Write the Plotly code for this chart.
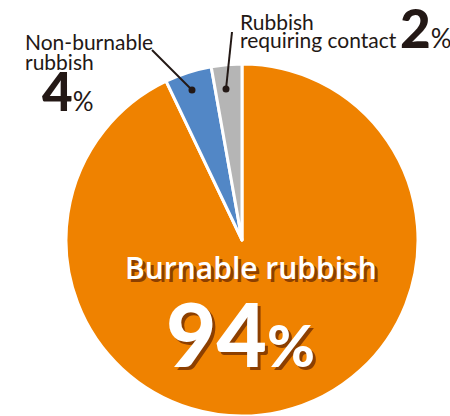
import plotly.graph_objects as go

W, H = 450, 416

categories = ["Burnable rubbish", "Non-burnable rubbish", "Rubbish requiring contact"]
slice_sizes = [92.9, 4.3, 2.8]       # angular sizes as drawn in the picture
percent_labels = [94, 4, 2]          # printed percentages
colors = ["#ef8200", "#5287c6", "#b5b5b5"]
label_lines = {
    "Non-burnable rubbish": ["Non-burnable", "rubbish"],
    "Rubbish requiring contact": ["Rubbish", "requiring contact"],
}

def px(x):
    return x / W

def py(y):
    return 1 - y / H

# pie centre (242, 240), radius 176
cx, cy, r = 242, 240, 176
fig = go.Figure(go.Pie(
    labels=categories,
    values=slice_sizes,
    sort=False,
    direction="clockwise",
    rotation=0,
    marker=dict(colors=colors, line=dict(color="white", width=3)),
    textinfo="none",
    hoverinfo="none",
    showlegend=False,
    domain=dict(x=[px(cx - r), px(cx + r)], y=[py(cy + r), py(cy - r)]),
))

shadow = "3px 3px 0px #8c3f00"
ink = "#231815"
pct_small = "<span style='font-size:{}px;font-weight:400'>%</span>"
ann = []

def text(x, y, t, font, xanchor="left", yanchor="top"):
    ann.append(dict(x=px(x), y=py(y), xref="paper", yref="paper", showarrow=False,
                    text=t, font=font, xanchor=xanchor, yanchor=yanchor, align="left"))

def tight(lines, size):
    return "<br>".join(f"<span style='font-size:{size}px'>{s}</span>" for s in lines)

# Burnable
text(251, 267, categories[0],
     dict(family="Open Sans", size=30, color="white", weight=600, shadow=shadow),
     xanchor="center", yanchor="middle")
text(240, 333, f"{percent_labels[0]}<span style='font-size:58px'>%</span>",
     dict(family="Lato", size=87, color="white", weight=900, shadow=shadow),
     xanchor="center", yanchor="middle")
# Non-burnable  (base size sets the tight line spacing)
text(23, 27, tight(label_lines[categories[1]], 21),
     dict(family="Lato", size=15.4, color=ink))
text(40, 124, f"{percent_labels[1]}" + pct_small.format(26),
     dict(family="Lato", size=53, color=ink, weight=900), yanchor="bottom")
# Requiring contact
text(238, 7, tight(label_lines[categories[2]], 21),
     dict(family="Lato", size=14, color=ink))
text(398, 61, f"{percent_labels[2]}" + pct_small.format(26),
     dict(family="Lato", size=53, color=ink, weight=900), yanchor="bottom")

shapes = [
    dict(type="line", xref="paper", yref="paper", x0=px(152), y0=py(50), x1=px(192), y1=py(90),
         line=dict(color=ink, width=2)),
    dict(type="circle", xref="paper", yref="paper", x0=px(188.5), y0=py(86.5), x1=px(195.5), y1=py(93.5),
         fillcolor=ink, line=dict(width=0)),
    dict(type="line", xref="paper", yref="paper", x0=px(232), y0=py(32), x1=px(226), y1=py(89),
         line=dict(color=ink, width=2)),
    dict(type="circle", xref="paper", yref="paper", x0=px(222.5), y0=py(85.5), x1=px(229.5), y1=py(92.5),
         fillcolor=ink, line=dict(width=0)),
]

fig.update_layout(
    width=W, height=H,
    margin=dict(l=0, r=0, t=0, b=0),
    paper_bgcolor="white", plot_bgcolor="white",
    annotations=ann, shapes=shapes,
)
fig.write_html("out.html", config={"displayModeBar": False},
               post_script="document.body.style.margin='0';")
